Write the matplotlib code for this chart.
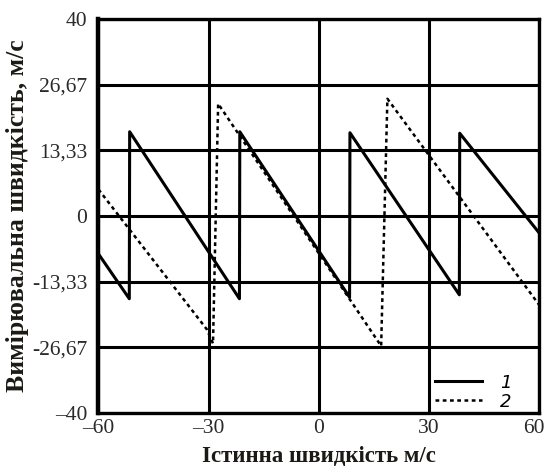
import matplotlib.pyplot as plt
from matplotlib.transforms import ScaledTranslation

# series 1 (solid sawtooth)
x1 = [-60, -51.6, -51.5, -21.6, -21.5, 8.4, 8.5, 38.3, 38.4, 60]
y1 = [-7.7, -16.8, 17.1, -16.8, 17.1, -16.5, 16.9, -16.0, 16.8, -3.4]

# series 2 (dashed sawtooth)
x2 = [-60, -30.5, -28.8, -27.4, 17.0, 18.7, 58.8, 60]
y2 = [5.4, -23.0, -25.9, 22.8, -26.4, 23.8, -16.8, -18.0]

xticks = [-60, -30, 0, 30, 60]
xticklabels = ['\u201360', '\u201330', '0', '30', '60']
yticks = [40, 26.67, 13.33, 0, -13.33, -26.67, -40]
yticklabels = ['40', '26,67', '13,33', '0', '-13,33', '-26,67', '\u201340']

plt.rcParams['font.family'] = ['Liberation Serif', 'DejaVu Serif']

fig = plt.figure(figsize=(5.47, 4.70), dpi=100)
ax = fig.add_axes([0.180, 0.1213, 0.8054, 0.8383])

ax.plot(x1, y1, color='black', lw=2.2, label='1', zorder=3)
ax.plot(x2, y2, color='black', lw=1.8, linestyle=(0, (1.5, 1.4)), label='2', zorder=3)

ax.set_xlim(-60, 60)
ax.set_ylim(-40, 40)
ax.set_xticks(xticks)
ax.set_xticklabels(xticklabels)
ax.set_yticks(yticks)
ax.set_yticklabels(yticklabels)
ax.tick_params(length=0, labelsize=15.5, colors='#2a2a2a')
ax.tick_params(axis='y', pad=8)
ax.tick_params(axis='x', pad=4)

# keep the "60" label inside the picture
last = ax.get_xticklabels()[-1]
last.set_transform(last.get_transform() + ScaledTranslation(-5 / 100, 0, fig.dpi_scale_trans))

ax.grid(True, color='black', lw=2.2, zorder=1)
for s in ax.spines.values():
    s.set_linewidth(2.4)
ax.spines['left'].set_linewidth(3.2)

ax.set_xlabel('Істинна швидкість м/с', fontsize=16.5, fontweight='bold', color='#1c1a14', labelpad=6)
ax.set_ylabel('Вимірювальна швидкість, м/с', fontsize=18.5, fontweight='bold', color='#1c1a14', labelpad=2)

leg = ax.legend(loc='lower right', bbox_to_anchor=(0.975, -0.035), frameon=False,
                handlelength=2.6, handletextpad=1.0, labelspacing=0.05,
                prop={'family': 'DejaVu Sans', 'style': 'italic', 'size': 13})

fig.savefig('out.png', dpi=100)
